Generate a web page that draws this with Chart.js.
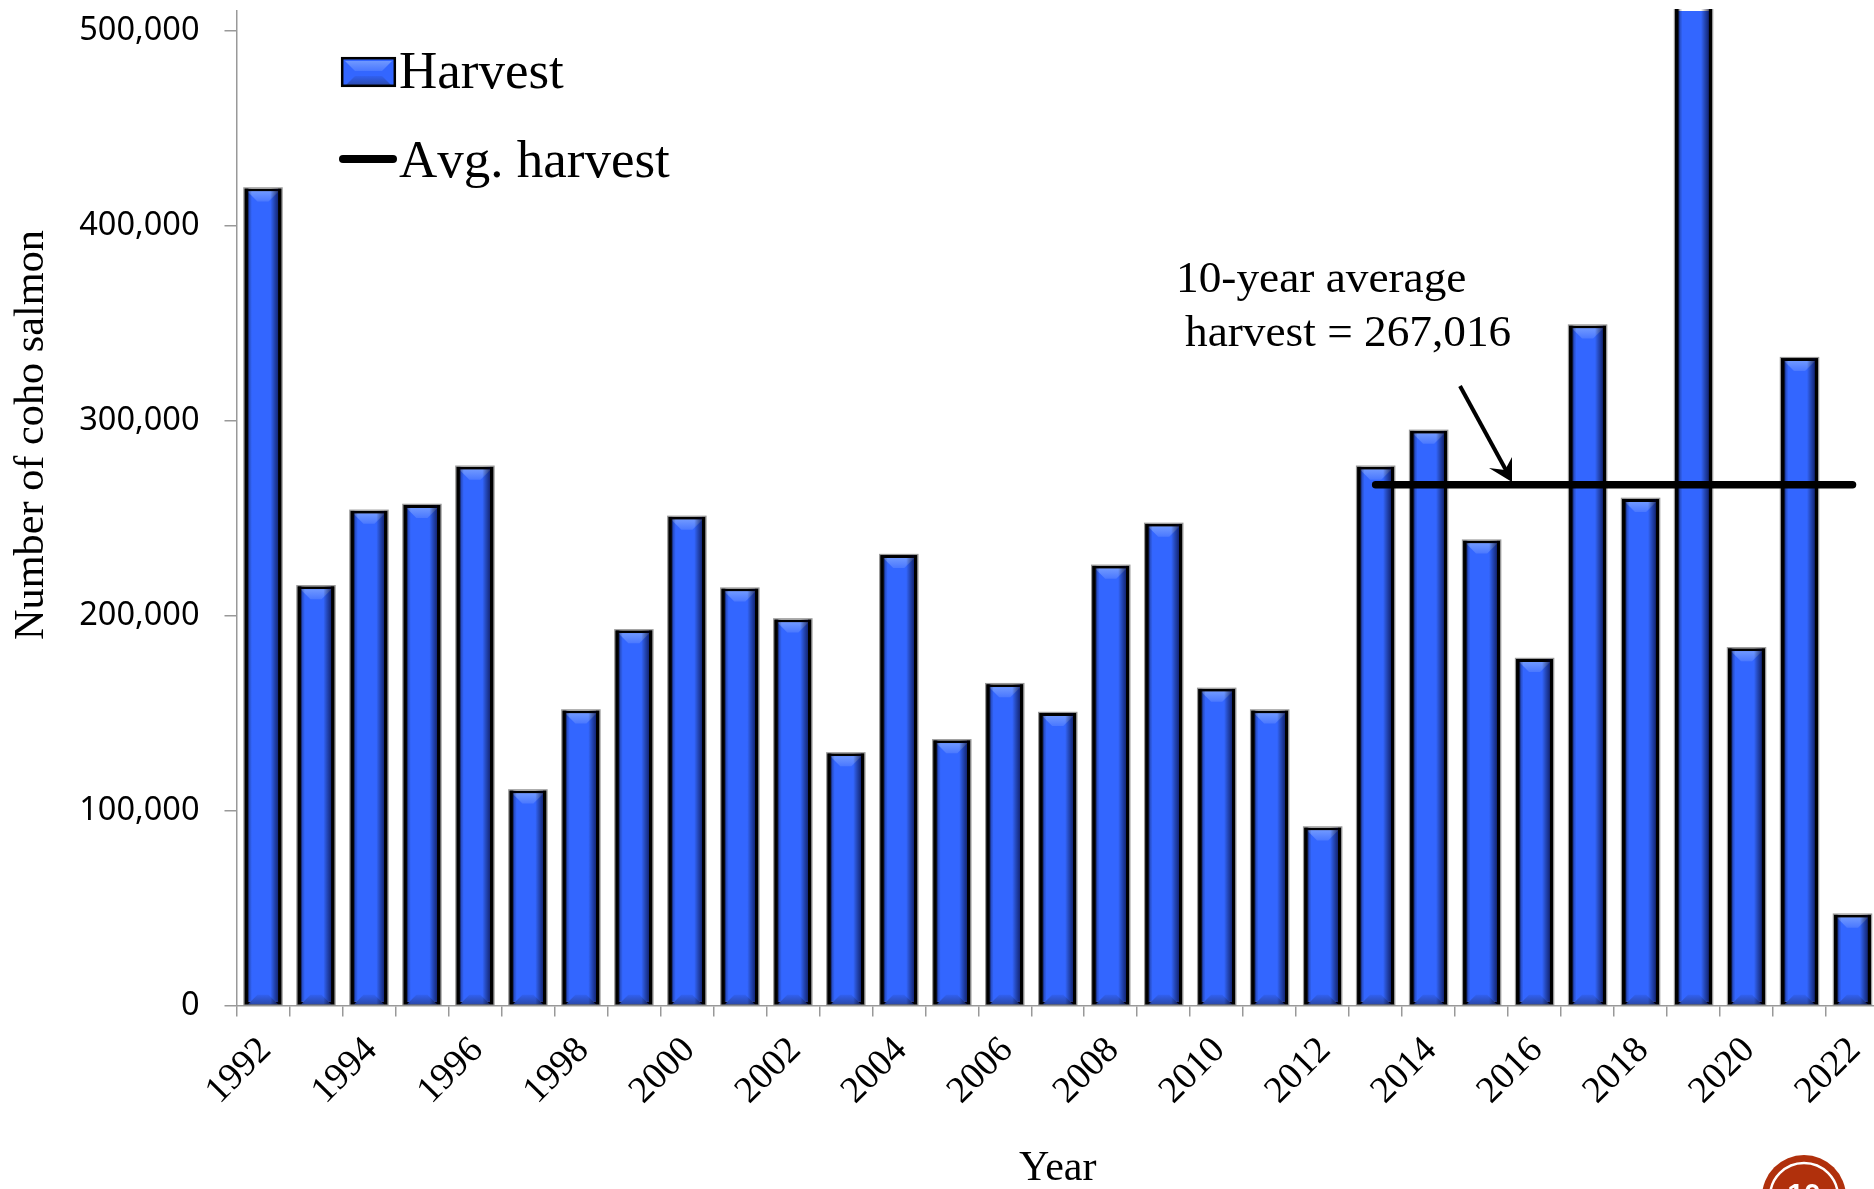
<!DOCTYPE html>
<html lang="en">
<head>
    <meta charset="UTF-8">
    <title>Coho salmon harvest</title>
    <script src="https://cdn.jsdelivr.net/npm/chart.js"></script>
    <style>
        html, body { margin: 0; padding: 0; background: #fff; overflow: hidden; }
        canvas { position: absolute; left: 0; top: 0; }
    </style>
</head>
<body>
    <canvas id="grafico" width="1879" height="1189"></canvas>

    <script>
        const years = ['1992','1993','1994','1995','1996','1997','1998','1999','2000','2001','2002',
            '2003','2004','2005','2006','2007','2008','2009','2010','2011','2012',
            '2013','2014','2015','2016','2017','2018','2019','2020','2021','2022'];
        const harvest = [419000,215000,253700,256700,276300,110300,151300,192400,250600,213800,198000,
            129300,231000,136000,164800,150000,225500,247000,162400,151300,91300,
            276300,294700,238400,177700,348700,259800,540000,183200,332000,46600];
        // average only covers the last ten years
        const avgHarvest = [null,null,null,null,null,null,null,null,null,null,null,
            null,null,null,null,null,null,null,null,null,null,
            267016,267016,267016,267016,267016,267016,267016,267016,267016,267016];
        const yTicks = [0, 100000, 200000, 300000, 400000, 500000];

        const serif = '"Liberation Serif", "Times New Roman", serif';

        // light wedge on top and dark wedge at the bottom of a bar
        function wedges(ctx, l, r, top, bottom) {
            const lightW = ctx.createLinearGradient(0, top + 3, 0, top + 13);
            lightW.addColorStop(0, '#6f98ff');
            lightW.addColorStop(1, '#4a78ff');
            ctx.fillStyle = lightW;
            ctx.beginPath();
            ctx.moveTo(l + 3, top + 3);
            ctx.lineTo(r - 3, top + 3);
            ctx.lineTo(r - 13, top + 13);
            ctx.lineTo(l + 13, top + 13);
            ctx.closePath();
            ctx.fill();

            const darkW = ctx.createLinearGradient(0, bottom - 10, 0, bottom);
            darkW.addColorStop(0, '#3160f0');
            darkW.addColorStop(1, '#2a48a8');
            ctx.fillStyle = darkW;
            ctx.beginPath();
            ctx.moveTo(l + 3, bottom);
            ctx.lineTo(r - 3, bottom);
            ctx.lineTo(r - 13, bottom - 10);
            ctx.lineTo(l + 13, bottom - 10);
            ctx.closePath();
            ctx.fill();
        }

        // bevel look of the bars, painted over what Chart.js drew
        function bevel(ctx, x, top, bottom, w) {
            const l = x - w / 2, r = x + w / 2;
            wedges(ctx, l, r, top, bottom);

            // dark sides, the right one fades further in
            const g = ctx.createLinearGradient(l, 0, r, 0);
            g.addColorStop(0, 'rgba(0,0,0,1)');
            g.addColorStop(0.08, 'rgba(0,0,0,1)');
            g.addColorStop(0.13, 'rgba(0,0,30,0.25)');
            g.addColorStop(0.2, 'rgba(0,0,0,0)');
            g.addColorStop(0.7, 'rgba(0,0,0,0)');
            g.addColorStop(0.9, 'rgba(0,0,40,0.6)');
            g.addColorStop(0.92, 'rgba(0,0,0,1)');
            g.addColorStop(1, 'rgba(0,0,0,1)');
            ctx.fillStyle = g;
            ctx.fillRect(l, top, w, bottom - top);

            // thin grey halo round the black edge
            ctx.strokeStyle = 'rgba(110,110,110,0.7)';
            ctx.lineWidth = 1.2;
            ctx.strokeRect(l - 0.6, top - 0.6, w + 1.2, bottom - top + 0.6);
        }

        const bevelPlugin = {
            id: 'bevel',
            afterDatasetDraw(chart, args) {
                if (args.index !== 0) return;
                const ctx = chart.ctx, area = chart.chartArea;
                ctx.save();
                ctx.beginPath();
                ctx.rect(area.left, area.top - 2, area.width, area.height + 2);
                ctx.clip();
                args.meta.data.forEach(bar => {
                    bevel(ctx, bar.x, bar.y, bar.base, bar.width);
                });
                ctx.restore();
            }
        };

        // legend, y title, note with arrow and the page badge
        const notesPlugin = {
            id: 'notes',
            afterDraw(chart) {
                const ctx = chart.ctx;
                ctx.save();
                ctx.textAlign = 'left';
                ctx.textBaseline = 'alphabetic';

                // legend
                ctx.fillStyle = '#3366ff';
                ctx.fillRect(342, 58, 53, 28);
                wedges(ctx, 342, 395, 58, 86);
                ctx.strokeStyle = '#000';
                ctx.lineWidth = 2.5;
                ctx.strokeRect(342.2, 58.2, 52.6, 27.6);

                ctx.strokeStyle = '#000';
                ctx.lineWidth = 8;
                ctx.lineCap = 'round';
                ctx.beginPath();
                ctx.moveTo(343, 159);
                ctx.lineTo(393, 159);
                ctx.stroke();

                ctx.fillStyle = '#000';
                ctx.font = '53px ' + serif;
                ctx.fontKerning = 'none';
                ctx.fillText('Harvest', 399, 88);
                ctx.fillText('Avg. harvest', 399, 177);

                // note
                ctx.fontKerning = 'auto';
                ctx.font = '45.3px ' + serif;
                ctx.fillText('10-year average', 1176, 292);
                ctx.fillText('harvest = 267,016', 1185, 346);

                // arrow
                ctx.lineCap = 'butt';
                ctx.lineWidth = 4;
                ctx.beginPath();
                ctx.moveTo(1460, 386);
                ctx.lineTo(1507, 472);
                ctx.stroke();
                ctx.beginPath();
                ctx.moveTo(1512, 482);
                ctx.lineTo(1489, 468);
                ctx.lineTo(1505, 470);
                ctx.lineTo(1512, 457);
                ctx.closePath();
                ctx.fill();

                // y title sits higher than the middle of the axis
                ctx.save();
                ctx.translate(32, 435);
                ctx.rotate(-Math.PI / 2);
                ctx.textAlign = 'center';
                ctx.textBaseline = 'middle';
                ctx.font = '42.3px ' + serif;
                ctx.fillText('Number of coho salmon', 0, 0);
                ctx.restore();

                // badge, cut by the bottom of the page
                ctx.fillStyle = '#b0300c';
                ctx.beginPath();
                ctx.arc(1804, 1197, 42, 0, Math.PI * 2);
                ctx.fill();
                ctx.strokeStyle = '#fff';
                ctx.lineWidth = 2.5;
                ctx.beginPath();
                ctx.arc(1804, 1197, 34, 0, Math.PI * 2);
                ctx.stroke();
                ctx.fillStyle = '#fff';
                ctx.textAlign = 'center';
                ctx.font = 'bold 30px "Liberation Sans", sans-serif';
                ctx.fillText('10', 1804, 1204);
                ctx.restore();
            }
        };

        new Chart(document.getElementById('grafico').getContext('2d'), {
            type: 'bar',
            data: {
                labels: years,
                datasets: [{
                    label: 'Harvest',
                    data: harvest,
                    order: 2,
                    backgroundColor: '#3366ff',
                    borderColor: '#000',
                    borderWidth: 3,
                    borderSkipped: false,
                    categoryPercentage: 0.7,
                    barPercentage: 1
                }, {
                    type: 'line',
                    label: 'Avg. harvest',
                    order: 1,
                    data: avgHarvest,
                    borderColor: '#000',
                    borderWidth: 7.5,
                    borderCapStyle: 'round',
                    pointRadius: 0
                }]
            },
            options: {
                responsive: false,
                animation: false,
                devicePixelRatio: 1,
                layout: { padding: { top: 11 } },
                plugins: { legend: { display: false }, title: { display: false }, tooltip: { enabled: false } },
                scales: {
                    x: {
                        offset: true,
                        afterFit: s => { s.height = 183.5; s.paddingLeft = 0; s.paddingRight = 0; },
                        grid: { offset: true, drawOnChartArea: false, color: '#999', lineWidth: 1.5, tickLength: 11 },
                        border: { color: '#999', width: 1.5 },
                        ticks: {
                            autoSkip: false,
                            minRotation: 45,
                            maxRotation: 45,
                            padding: 12,
                            labelOffset: 2.5,
                            color: '#000',
                            font: { family: serif, size: 37.5 },
                            callback: function (v, i) { return i % 2 === 0 ? years[i] : ''; }
                        },
                        title: {
                            display: true,
                            text: 'Year',
                            color: '#000',
                            font: { family: serif, size: 42 },
                            padding: { top: 0, bottom: -5 }
                        }
                    },
                    y: {
                        min: 0,
                        max: 510000,
                        afterFit: s => { s.width = 236.5; s.paddingTop = 0; s.paddingBottom = 0; },
                        afterBuildTicks: s => { s.ticks = yTicks.map(v => ({ value: v })); },
                        grid: { drawOnChartArea: false, color: '#999', lineWidth: 1.5, tickLength: 12 },
                        border: { color: '#999', width: 1.5 },
                        ticks: {
                            padding: 25,
                            color: '#000',
                            font: { family: '"Noto Sans", sans-serif', size: 32.5 },
                            callback: v => v.toLocaleString('en-US')
                        }
                    }
                }
            },
            plugins: [bevelPlugin, notesPlugin]
        });
    </script>
</body>
</html>
